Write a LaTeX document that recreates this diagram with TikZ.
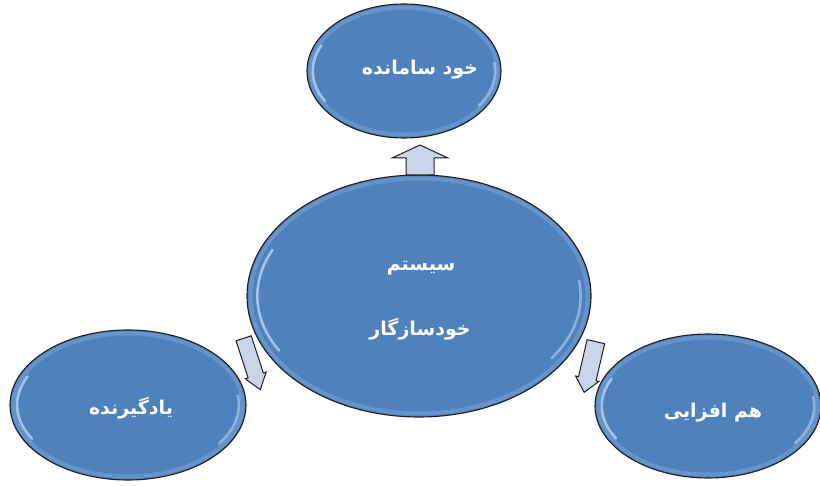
\documentclass[tikz,border=0pt]{standalone}
\usepackage{fontspec}
\newfontfamily\arabicfont[Script=Arabic]{DejaVu Sans}
\TeXXeTstate=1
\definecolor{bubble}{HTML}{4F81BD}
\definecolor{rimlight}{HTML}{B9D3F2}
\definecolor{arrowfill}{HTML}{C9D6EA}
\definecolor{edge}{HTML}{1E1E1E}
\tikzset{
  bubble/.style={ellipse, fill=bubble, draw=edge, line width=1.1pt, inner sep=0pt},
  txt/.style={text=white, font=\arabicfont\bfseries\fontsize{19}{22}\selectfont},
  blockarrow/.style={fill=arrowfill, draw=edge, line width=1pt, line join=miter},
  rim/.style={draw=rimlight, line width=2.6pt, line cap=round, opacity=0.8},
  bevel/.style={draw=rimlight, line width=4pt, opacity=0.22}
}
\newcommand{\gloss}[4]{% cx, cy, rx, ry
  \draw[bevel] (#1,#2) ellipse[x radius=#3-3.5, y radius=#4-3.5];
  \draw[rim] ([shift={(150:#3*0.94 and #4*0.9)}]#1,#2) arc[start angle=150, end angle=205, x radius=#3*0.94, y radius=#4*0.9];
  \draw[rim, opacity=0.6] ([shift={(-8:#3*0.94 and #4*0.9)}]#1,#2) arc[start angle=-8, end angle=35, x radius=#3*0.94, y radius=#4*0.9];
}
\usetikzlibrary{shapes.geometric}
\begin{document}
\begin{tikzpicture}[x=1pt,y=-1pt]
\useasboundingbox (0,0) rectangle (820,486);
% ellipses
\node[bubble, minimum width=194pt, minimum height=134pt] (top) at (404,71) {};
\node[bubble, minimum width=344pt, minimum height=242pt] (mid) at (419,296) {};
\node[bubble, minimum width=236pt, minimum height=150pt] (left) at (128,405) {};
\node[bubble, minimum width=226pt, minimum height=144pt] (right) at (708,406) {};
\gloss{404}{71}{97}{67}
\gloss{419}{296}{172}{121}
\gloss{128}{405}{118}{75}
\gloss{708}{406}{113}{72}
% texts
\node[txt] (ttop) at (420,70) {\beginR خود سامانده\endR};
\node[txt] (tmid1) at (421,268) {\beginR سیستم\endR};
\node[txt] (tmid2) at (420,329) {\beginR خودسازگار\endR};
\node[txt] (tleft) at (131,408) {\beginR یادگیرنده\endR};
\node[txt] (tright) at (713,413) {\beginR هم افزایی\endR};
% block arrows
\coordinate (aup) at (420,160);
\coordinate (aleft) at (252,364);
\coordinate (aright) at (590,367);
\begin{scope}[shift={(aup)}, rotate=90]
  \draw[blockarrow] (-15,-14) -- (2,-14) -- (2,-28) -- (15,0) -- (2,28) -- (2,14) -- (-15,14) -- cycle;
\end{scope}
\begin{scope}[shift={(aleft)}, rotate=-72]
  \draw[blockarrow] (-27,-8) -- (12,-8) -- (12,-11) -- (27,0) -- (12,11) -- (12,8) -- (-27,8) -- cycle;
\end{scope}
\begin{scope}[shift={(aright)}, rotate=-103]
  \draw[blockarrow] (-26,-9) -- (12,-9) -- (12,-12) -- (26,0) -- (12,12) -- (12,9) -- (-26,9) -- cycle;
\end{scope}
\end{tikzpicture}
\end{document}
